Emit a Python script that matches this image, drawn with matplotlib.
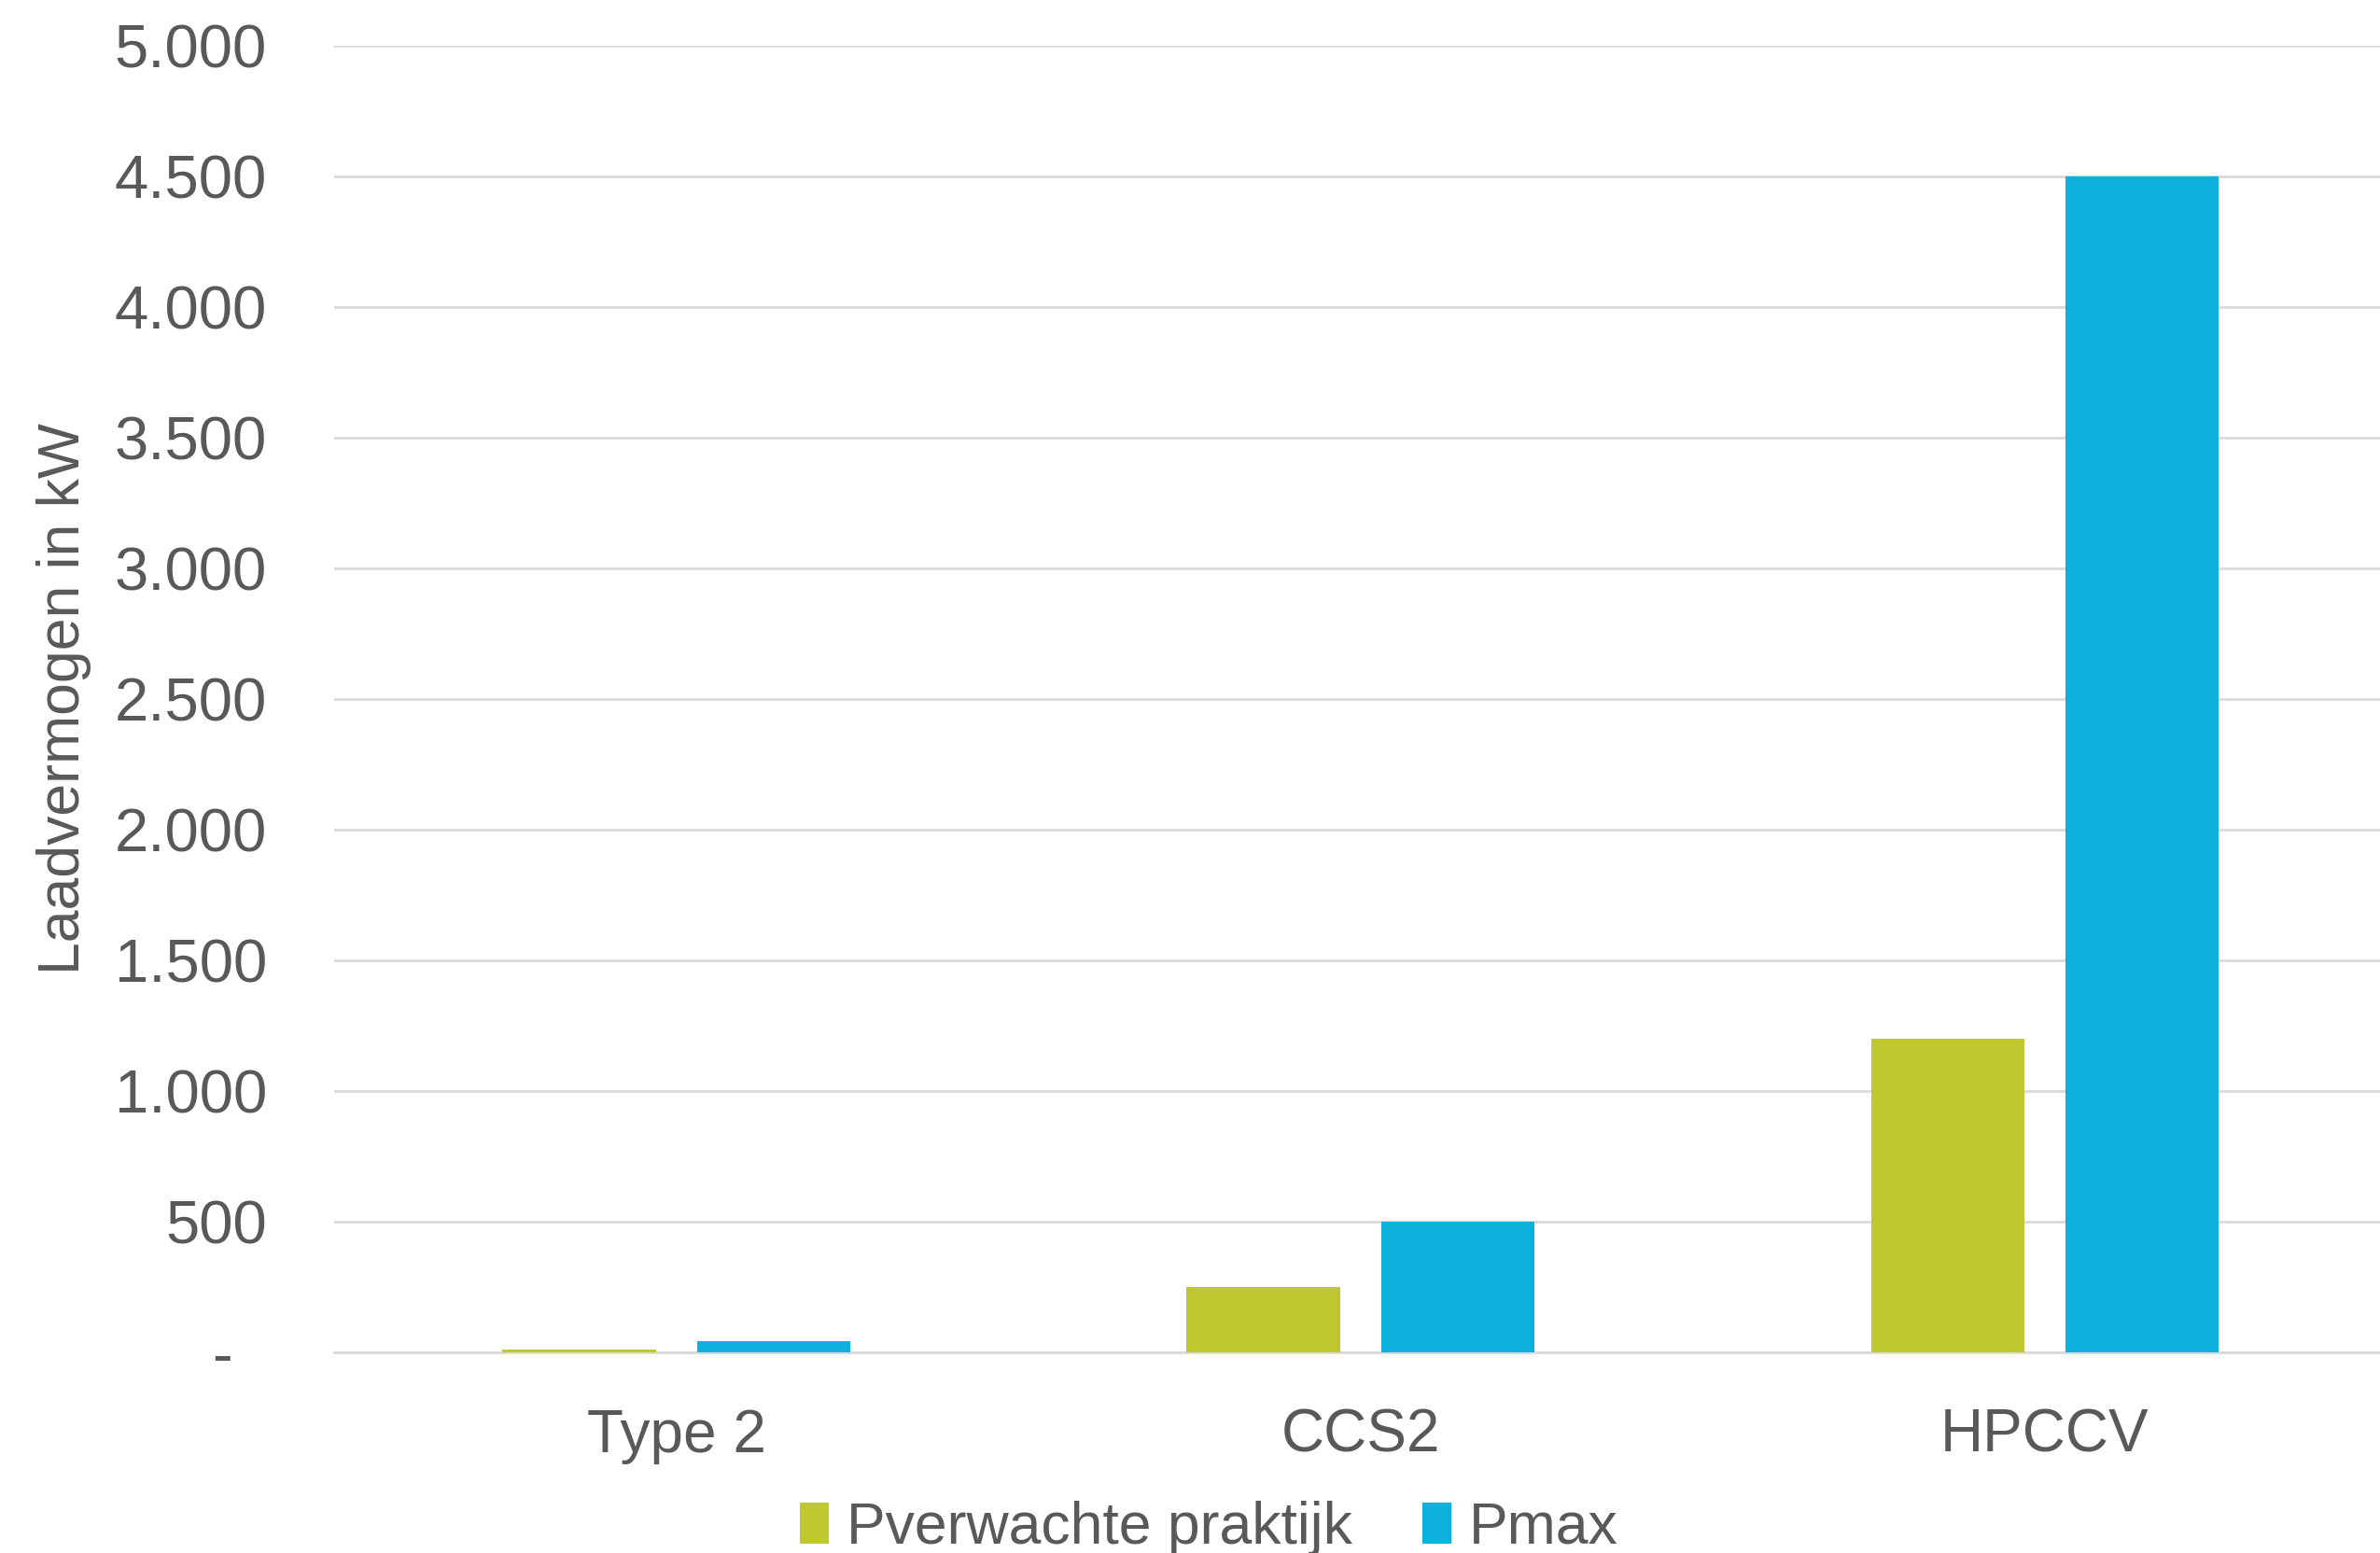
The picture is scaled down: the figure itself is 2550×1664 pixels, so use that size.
import numpy as np
import matplotlib.pyplot as plt
from matplotlib.ticker import FuncFormatter

# -----------------------
# Data
# -----------------------
categories = ["Type 2", "CCS2", "HPCCV"]
p_verwacht = [11, 250, 1200]     # Pverwachte praktijk (kW)
p_max = [43, 500, 4500]          # Pmax (kW)
y_ticks = [0, 500, 1000, 1500, 2000, 2500, 3000, 3500, 4000, 4500, 5000]

green = "#BFC831"
blue = "#0BB0DC"
text_col = "#595959"
grid_col = "#D9D9D9"

plt.rcParams["font.family"] = ["Liberation Sans", "DejaVu Sans"]

fig = plt.figure(figsize=(25.5, 16.64), dpi=100)
ax = fig.add_axes([0.1404, 0.1292, 0.8596, 0.8415])

x = np.arange(len(categories))
w = 0.224
off = 0.142
ax.bar(x - off, p_verwacht, w, color=green, label="Pverwachte praktijk", zorder=3)
ax.bar(x + off, p_max, w, color=blue, label="Pmax", zorder=3)

ax.set_xlim(-0.5, 2.49)
ax.set_ylim(0, 5000)
ax.set_yticks(y_ticks)


def fmt(v, pos):
    # accounting style: zero shown as a dash, dots as thousands separator
    if v == 0:
        return "-  "
    return f"{int(v):,}".replace(",", ".")


ax.yaxis.set_major_formatter(FuncFormatter(fmt))
ax.set_xticks(x)
ax.set_xticklabels(categories)

ax.grid(axis="y", color=grid_col, linewidth=2, zorder=0)
for s in ["top", "right", "left"]:
    ax.spines[s].set_visible(False)
ax.spines["bottom"].set_color(grid_col)
ax.spines["bottom"].set_linewidth(2)
ax.tick_params(axis="y", length=0, labelsize=47, colors=text_col, pad=52)
ax.tick_params(axis="x", length=0, labelsize=46, colors=text_col, pad=43)

ax.set_ylabel("Laadvermogen in kW", fontsize=45, color=text_col, labelpad=18)

leg = fig.legend(loc="center", bbox_to_anchor=(0.508, 0.016), ncol=2,
                 frameon=False, fontsize=45, handlelength=0.5, handleheight=0.7,
                 handletextpad=0.3, columnspacing=1.2)
for t in leg.get_texts():
    t.set_color(text_col)

fig.savefig("out.png", dpi=100)
